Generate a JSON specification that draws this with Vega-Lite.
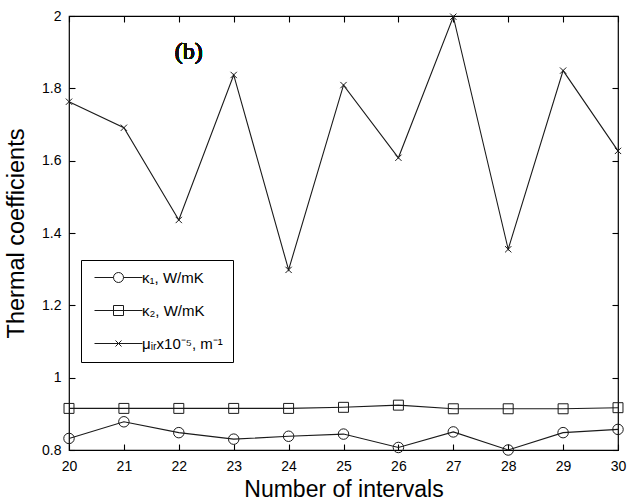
{
  "$schema": "https://vega.github.io/schema/vega-lite/v6.json",
  "width": 549,
  "height": 434,
  "autosize": {"type": "none"},
  "padding": {"left": 69, "top": 16, "right": 11, "bottom": 54},
  "background": "white",
  "config": {
    "view": {"stroke": "black", "strokeWidth": 1.2},
    "font": "Liberation Sans",
    "axis": {
      "domain": false,
      "grid": false,
      "ticks": true,
      "tickColor": "black",
      "tickWidth": 1.1,
      "tickSize": 6,
      "offset": -6,
      "labelFont": "Liberation Sans",
      "labelFontSize": 14,
      "labelColor": "black",
      "labelPadding": 8,
      "labelFlush": false,
      "labelOverlap": false,
      "titleFont": "Liberation Sans",
      "titleFontSize": 23,
      "titleFontWeight": "normal",
      "titleColor": "black"
    },
    "legend": {
      "labelFont": "Liberation Sans",
      "labelFontSize": 15,
      "labelColor": "black"
    }
  },
  "data": {
    "values": [
      {"n": 20, "series": "κ₁, W/mK", "value": 0.832},
      {"n": 21, "series": "κ₁, W/mK", "value": 0.878},
      {"n": 22, "series": "κ₁, W/mK", "value": 0.848},
      {"n": 23, "series": "κ₁, W/mK", "value": 0.830},
      {"n": 24, "series": "κ₁, W/mK", "value": 0.838},
      {"n": 25, "series": "κ₁, W/mK", "value": 0.844},
      {"n": 26, "series": "κ₁, W/mK", "value": 0.807},
      {"n": 27, "series": "κ₁, W/mK", "value": 0.850},
      {"n": 28, "series": "κ₁, W/mK", "value": 0.800},
      {"n": 29, "series": "κ₁, W/mK", "value": 0.848},
      {"n": 30, "series": "κ₁, W/mK", "value": 0.857},
      {"n": 20, "series": "κ₂, W/mK", "value": 0.915},
      {"n": 21, "series": "κ₂, W/mK", "value": 0.915},
      {"n": 22, "series": "κ₂, W/mK", "value": 0.915},
      {"n": 23, "series": "κ₂, W/mK", "value": 0.915},
      {"n": 24, "series": "κ₂, W/mK", "value": 0.915},
      {"n": 25, "series": "κ₂, W/mK", "value": 0.918},
      {"n": 26, "series": "κ₂, W/mK", "value": 0.924},
      {"n": 27, "series": "κ₂, W/mK", "value": 0.914},
      {"n": 28, "series": "κ₂, W/mK", "value": 0.914},
      {"n": 29, "series": "κ₂, W/mK", "value": 0.914},
      {"n": 30, "series": "κ₂, W/mK", "value": 0.917},
      {"n": 20, "series": "μᵢᵣx10⁻⁵, m⁻¹", "value": 1.763},
      {"n": 21, "series": "μᵢᵣx10⁻⁵, m⁻¹", "value": 1.691},
      {"n": 22, "series": "μᵢᵣx10⁻⁵, m⁻¹", "value": 1.436},
      {"n": 23, "series": "μᵢᵣx10⁻⁵, m⁻¹", "value": 1.837},
      {"n": 24, "series": "μᵢᵣx10⁻⁵, m⁻¹", "value": 1.298},
      {"n": 25, "series": "μᵢᵣx10⁻⁵, m⁻¹", "value": 1.809},
      {"n": 26, "series": "μᵢᵣx10⁻⁵, m⁻¹", "value": 1.608},
      {"n": 27, "series": "μᵢᵣx10⁻⁵, m⁻¹", "value": 1.998},
      {"n": 28, "series": "μᵢᵣx10⁻⁵, m⁻¹", "value": 1.355},
      {"n": 29, "series": "μᵢᵣx10⁻⁵, m⁻¹", "value": 1.849},
      {"n": 30, "series": "μᵢᵣx10⁻⁵, m⁻¹", "value": 1.627}
    ]
  },
  "layer": [
    {
      "mark": {"type": "line", "color": "#1a1a1a", "strokeWidth": 1.1},
      "encoding": {
        "x": {"field": "n", "type": "quantitative", "scale": {"domain": [20, 30], "nice": false, "zero": false},
              "axis": {"orient": "bottom", "values": [20,21,22,23,24,25,26,27,28,29,30], "format": "d", "title": "Number of intervals", "labelPadding": 9, "titlePadding": 5}},
        "y": {"field": "value", "type": "quantitative", "scale": {"domain": [0.8, 2], "nice": false, "zero": false},
              "axis": {"orient": "left", "values": [0.8,1,1.2,1.4,1.6,1.8,2], "format": "~g", "title": "Thermal coefficients", "titlePadding": 13, "titleFontSize": 23.5}},
        "detail": {"field": "series", "type": "nominal"}
      }
    },
    {
      "mark": {"type": "point", "filled": false, "color": "#1a1a1a", "strokeWidth": 1, "size": 110, "opacity": 1},
      "encoding": {
        "x": {"field": "n", "type": "quantitative",
              "axis": {"orient": "top", "values": [20,21,22,23,24,25,26,27,28,29,30], "labels": false, "title": null}},
        "y": {"field": "value", "type": "quantitative",
              "axis": {"orient": "right", "values": [0.8,1,1.2,1.4,1.6,1.8,2], "labels": false, "title": null}},
        "shape": {"field": "series", "type": "nominal", "legend": null,
                  "scale": {"domain": ["κ₁, W/mK", "κ₂, W/mK", "μᵢᵣx10⁻⁵, m⁻¹"],
                            "range": ["M-1,0A1,1 0 1,1 1,0A1,1 0 1,1 -1,0Z", "M-0.95,-0.95H0.95V0.95H-0.95Z", "M-0.6,-0.6L0.6,0.6M-0.6,0.6L0.6,-0.6"]}}
      }
    },
    {
      "transform": [{"filter": "false"}],
      "mark": {"type": "point", "filled": false, "color": "#1a1a1a", "strokeWidth": 1, "opacity": 1},
      "encoding": {
        "shape": {"field": "series", "type": "nominal",
                  "scale": {"domain": ["κ₁, W/mK", "κ₂, W/mK", "μᵢᵣx10⁻⁵, m⁻¹"],
                            "range": ["M-4.8,0H-1M1,0H4.8M-1,0A1,1 0 1,1 1,0A1,1 0 1,1 -1,0Z", "M-4.8,0H4.8M-1,-1H1V1H-1Z", "M-4.8,0H4.8M-0.6,-0.6L0.6,0.6M-0.6,0.6L0.6,-0.6"]},
                  "legend": {"orient": "none", "legendX": 12, "legendY": 244, "title": null,
                             "strokeColor": "black", "fillColor": "white", "padding": 10,
                             "symbolSize": 100, "symbolOffset": 20, "labelOffset": 16,
                             "symbolStrokeColor": "#1a1a1a", "symbolStrokeWidth": 1, "symbolFillColor": "transparent",
                             "rowPadding": 17, "labelFontSize": 15}}
      }
    },
    {
      "mark": {"type": "text", "font": "Liberation Serif", "fontSize": 24, "fontWeight": "normal", "color": "#111111", "align": "center", "baseline": "middle", "text": "(b)"},
      "encoding": {
        "x": {"datum": 22.18, "type": "quantitative", "axis": null},
        "y": {"datum": 1.90, "type": "quantitative", "axis": null}
      }
    }
  ],
  "resolve": {"axis": {"x": "independent", "y": "independent"}, "scale": {"shape": "independent"}}
}
